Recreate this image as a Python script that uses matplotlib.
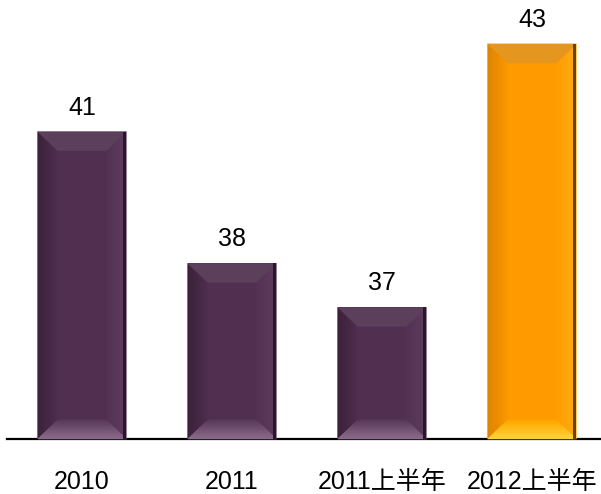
import matplotlib
matplotlib.use('Agg')
import matplotlib.pyplot as plt
from matplotlib.patches import Polygon, Rectangle
from matplotlib.transforms import IdentityTransform
import numpy as np
from matplotlib.colors import to_rgb

plt.rcParams['font.family'] = ['Liberation Sans', 'Noto Sans CJK SC']

categories = ['2010', '2011', '2011上半年', '2012上半年']
values = [41, 38, 37, 43]
highlight = [False, False, False, True]
y_min, y_max = 34, 44

purple = dict(face='#512f51', top='#5c3f5b', bot_in='#5a3a5a', bot_out='#8f6e8f',
              left_out='#3a2139', left_in='#4e2d4e', right_in='#533253',
              right_out='#5e3e5e', edge='#2a1829')
orange = dict(face='#ff9b00', top='#e5961f', bot_in='#ffa600', bot_out='#ffd83c',
              left_out='#de8300', left_in='#fb9800', right_in='#ff9e00',
              right_out='#ffab18', edge='#6a4300')

fig = plt.figure(figsize=(6.01, 4.94), dpi=100)
ax = fig.add_axes([7 / 601, 55 / 494, 594 / 601, 439 / 494])
ax.set_xlim(-0.5, 3.46)
ax.set_ylim(y_min, y_max)
x = np.arange(len(categories))
bars = ax.bar(x, values, width=0.59,
              color=[orange['face'] if h else purple['face'] for h in highlight],
              zorder=2)

for s in ['top', 'left', 'right']:
    ax.spines[s].set_visible(False)
ax.spines['bottom'].set_linewidth(1.6)
ax.spines['bottom'].set_zorder(5)
ax.set_yticks([])
ax.set_xticks([])

fig.canvas.draw()
ident = IdentityTransform()


def lerp(c1, c2, t):
    a, b = np.array(to_rgb(c1)), np.array(to_rgb(c2))
    return tuple(a + (b - a) * t)


def add_poly(pts, color):
    p = Polygon(pts, closed=True, facecolor=color, edgecolor=color, lw=0.4,
                transform=ident, zorder=3)
    fig.add_artist(p)


N = 24
bh, bv = 20, 19
ax_y0 = ax.bbox.y0
for bar, h in zip(bars, highlight):
    pal = orange if h else purple
    bb = bar.get_window_extent()
    x0, x1 = bb.x0, bb.x1
    y0, y1 = max(bb.y0, ax_y0), bb.y1
    # left bevel gradient
    for i in range(N):
        sa, sb = bh * i / N, bh * (i + 1) / N
        c = lerp(pal['left_out'], pal['left_in'], (i + 0.5) / N)
        add_poly([(x0 + sa, y0 + bv * sa / bh), (x0 + sb, y0 + bv * sb / bh),
                  (x0 + sb, y1 - bv * sb / bh), (x0 + sa, y1 - bv * sa / bh)], c)
    # right bevel gradient
    for i in range(N):
        sa, sb = bh * i / N, bh * (i + 1) / N
        c = lerp(pal['right_out'], pal['right_in'], (i + 0.5) / N)
        add_poly([(x1 - sa, y0 + bv * sa / bh), (x1 - sb, y0 + bv * sb / bh),
                  (x1 - sb, y1 - bv * sb / bh), (x1 - sa, y1 - bv * sa / bh)], c)
    # top bevel
    add_poly([(x0, y1), (x1, y1), (x1 - bh, y1 - bv), (x0 + bh, y1 - bv)], pal['top'])
    # bottom bevel gradient
    for i in range(N):
        ta, tb = i / N, (i + 1) / N
        c = lerp(pal['bot_out'], pal['bot_in'], (i + 0.5) / N)
        add_poly([(x0 + bh * ta, y0 + bv * ta), (x1 - bh * ta, y0 + bv * ta),
                  (x1 - bh * tb, y0 + bv * tb), (x0 + bh * tb, y0 + bv * tb)], c)
    # dark right edge
    fig.add_artist(Rectangle((x1 - 3, y0), 3, y1 - y0, facecolor=pal['edge'],
                             edgecolor='none', transform=ident, zorder=4))

for xi, v in zip(x, values):
    ax.annotate(str(v), xy=(xi, v), xytext=(0, 12.2), textcoords='offset points',
                ha='center', va='baseline', fontsize=18, color='#000000',
                annotation_clip=False)

for xi, c in zip(x, categories):
    ax.annotate(c, xy=(xi, 0), xycoords=('data', 'axes fraction'),
                xytext=(0, -36), textcoords='offset points',
                ha='center', va='baseline', fontsize=18, color='#000000',
                annotation_clip=False)

fig.savefig('out.png', dpi=100)
